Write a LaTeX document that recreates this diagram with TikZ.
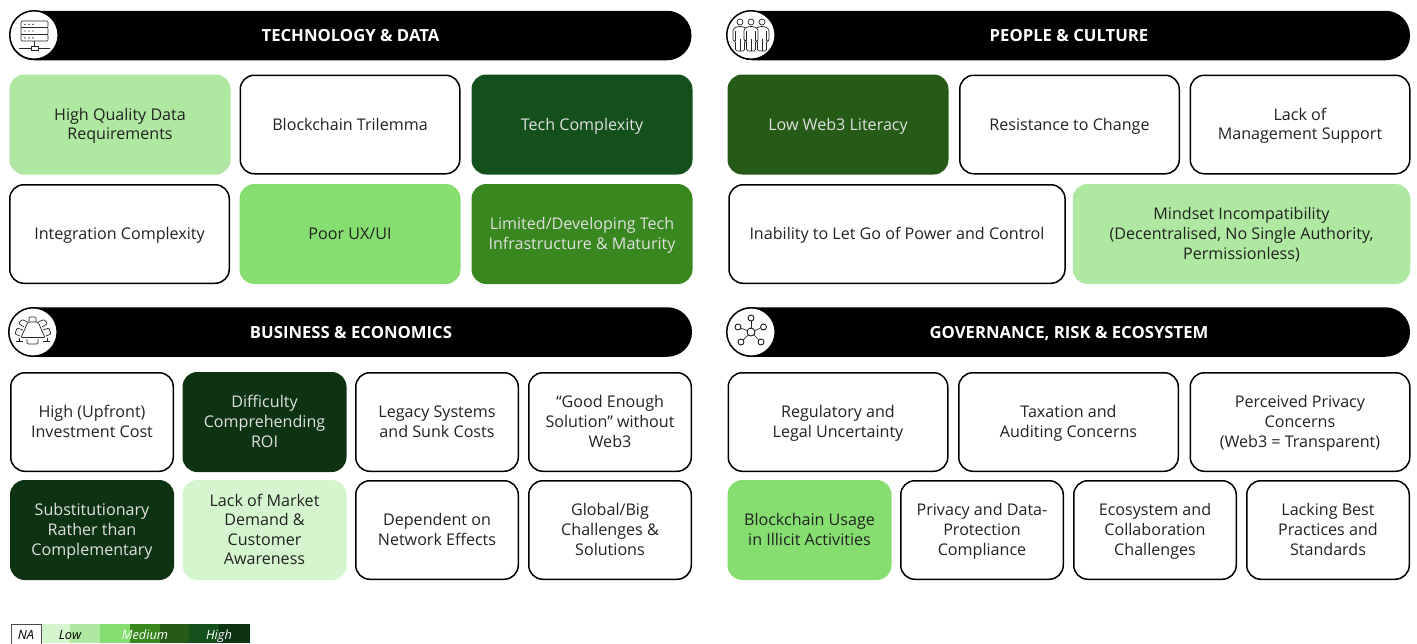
\documentclass[tikz,border=0pt]{standalone}
\usepackage{xcolor}
\usepackage{fontspec}
\setmainfont{Open Sans}
\usetikzlibrary{positioning}
\definecolor{lvlone}{HTML}{D5F5CE}
\definecolor{lvltwo}{HTML}{AFE8A0}
\definecolor{lvlthree}{HTML}{86DE70}
\definecolor{lvlfour}{HTML}{38871F}
\definecolor{lvlfive}{HTML}{265A17}
\definecolor{lvlsix}{HTML}{14501C}
\definecolor{lvlseven}{HTML}{0E3312}
\definecolor{cardtext}{HTML}{222222}

\begin{document}
\begin{tikzpicture}[
    x=1pt, y=-1pt,
    card/.style={rectangle, draw=black, fill=white, rounded corners=14pt, line width=1.5pt,
                 minimum height=98.5pt, inner sep=0pt, align=center, text=cardtext,
                 font=\fontsize{16.1}{19.6}\selectfont, lines=2},
    lines/.style={text depth=0pt, text height=#1*19.6pt-8.6pt},
    wide/.style={card, minimum width=219.5pt},
    slim/.style={card, minimum width=162.5pt},
    half/.style={card, minimum width=336pt},
    low/.style={draw=#1, fill=#1},
    dark/.style={draw=#1, fill=#1, text=white!88!black},
    headbar/.style={rectangle, fill=black, rounded corners=24.5pt, minimum width=682pt, minimum height=49.5pt,
                    inner sep=0pt, text=white, font=\fontsize{16.7}{19}\selectfont\bfseries,
                    text height=12pt, text depth=0pt},
    badge/.style={circle, draw=black, fill=white, line width=1.5pt, minimum size=48.5pt, inner sep=0pt},
    glyph/.style={draw=black!85, line width=0.7pt},
    hub/.style={circle, draw=black, fill=white, line width=0.8pt, inner sep=0pt, minimum size=#1},
    keytext/.style={font=\fontsize{12.8}{15}\selectfont\itshape, inner sep=0pt, anchor=base}
]
\useasboundingbox (0,0) rectangle (1417,643);

% Technology
\node[headbar] (techbar) at (350.5,35.5) {TECHNOLOGY \& DATA};
\node[badge] (techicon) at (34,35) {};
\node[wide, low=lvltwo] (quality) at (120,124.5) {High Quality Data\\Requirements};
\node[wide, lines=1] (trilemma) at (350,124.5) {Blockchain Trilemma};
\node[wide, lines=1, dark=lvlsix] (complexity) at (582,124.5) {Tech Complexity};
\node[wide, lines=1] (integration) at (119.5,234) {Integration Complexity};
\node[wide, lines=1, low=lvlthree] (poorux) at (350,234) {Poor UX/UI};
\node[wide, dark=lvlfour] (infra) at (582,234) {Limited/Developing Tech\\Infrastructure \& Maturity};

% People
\node[headbar] (peoplebar) at (1069,35.5) {PEOPLE \& CULTURE};
\node[badge] (peopleicon) at (751,35) {};
\node[wide, lines=1, dark=lvlfive] (literacy) at (838,124.5) {Low Web3 Literacy};
\node[wide, lines=1] (resistance) at (1069.5,124.5) {Resistance to Change};
\node[wide] (support) at (1300,124.5) {Lack of\\Management Support};
\node[half, lines=1] (letgo) at (897,234) {Inability to Let Go of Power and Control};
\node[half, lines=3, low=lvltwo] (mindset) at (1241.5,234) {Mindset Incompatibility\\(Decentralised, No Single Authority,\\Permissionless)};

% Business
\node[headbar] (busbar) at (351,332) {BUSINESS \& ECONOMICS};
\node[badge] (busicon) at (33,332) {};
\node[slim] (upfront) at (92,422) {High (Upfront)\\Investment Cost};
\node[slim, lines=3, dark=lvlseven] (roi) at (264.5,422) {Difficulty\\Comprehending\\ROI};
\node[slim] (legacy) at (437,422) {Legacy Systems\\and Sunk Costs};
\node[slim, lines=3] (goodenough) at (610,422) {“Good Enough\\Solution” without\\Web3};
\node[slim, lines=3, dark=lvlseven] (substitute) at (92,530) {Substitutionary\\Rather than\\Complementary};
\node[slim, lines=4, low=lvlone] (market) at (264.5,530) {Lack of Market\\Demand \&\\Customer\\Awareness};
\node[slim] (network) at (437,530) {Dependent on\\Network Effects};
\node[slim, lines=3] (global) at (610,530) {Global/Big\\Challenges \&\\Solutions};

% Governance
\node[headbar] (govbar) at (1069,332) {GOVERNANCE, RISK \& ECOSYSTEM};
\node[badge] (govicon) at (751,332) {};
\node[wide] (regulatory) at (838,422) {Regulatory and\\Legal Uncertainty};
\node[wide] (taxation) at (1068.5,422) {Taxation and\\Auditing Concerns};
\node[wide, lines=3] (privacy) at (1300,422) {Perceived Privacy\\Concerns\\(Web3 = Transparent)};
\node[slim, low=lvlthree] (illicit) at (809.5,530) {Blockchain Usage\\in Illicit Activities};
\node[slim, lines=3] (protection) at (982,530) {Privacy and Data-\\Protection\\Compliance};
\node[slim, lines=3] (ecosystem) at (1155,530) {Ecosystem and\\Collaboration\\Challenges};
\node[slim, lines=3] (practices) at (1328,530) {Lacking Best\\Practices and\\Standards};

% Server icon
\draw[glyph, rounded corners=1pt] (21,21) rectangle (48,27.5);
\draw[glyph, rounded corners=1pt] (21,27.5) rectangle (48,34.5);
\draw[glyph, rounded corners=1pt] (21,34.5) rectangle (48,41);
\foreach \rowy in {24.3,31,37.8} {
    \foreach \dotx in {25,29,33} {
        \fill[black] (\dotx,\rowy) circle (0.7pt);
    }
}
\draw[glyph] (34.5,41) -- (34.5,46);
\draw[glyph] (19,48) -- (31,48);
\draw[glyph] (38,48) -- (50,48);
\draw[glyph] (31,46) rectangle (38,50);

% People icon
\foreach \cx in {740,762,751} {
    \draw[glyph, fill=white] (\cx,22) circle (3pt);
    \draw[glyph, fill=white, rounded corners=1.5pt] (\cx-2.5,26.5) -- (\cx-7,29) -- (\cx-7,41) -- (\cx-4.5,41)
        -- (\cx-4.5,51) -- (\cx+4.5,51) -- (\cx+4.5,41) -- (\cx+7,41) -- (\cx+7,29) -- (\cx+2.5,26.5) -- cycle;
    \draw[glyph] (\cx,39) -- (\cx,51) (\cx-4.5,31) -- (\cx-4.5,41) (\cx+4.5,31) -- (\cx+4.5,41);
}

% Table icon
\draw[glyph, rounded corners=1pt] (21,337.5) -- (28,322) -- (38,322) -- (45,337.5) -- cycle;
\draw[glyph, rounded corners=1.5pt] (27,339) -- (27,344) -- (38,344) -- (38,339);
\draw[glyph, rounded corners=1pt] (29,322) -- (29,317) -- (36,317) -- (36,322);
\draw[glyph, rounded corners=1pt] (24,327) -- (18.5,323.5) -- (22,319.5) -- (27.5,322);
\draw[glyph, rounded corners=1pt] (42,327) -- (47.5,323.5) -- (44,319.5) -- (38.5,322);
\draw[glyph, rounded corners=1pt] (20,336) -- (15,334) -- (17,328) -- (23,330);
\draw[glyph, rounded corners=1pt] (46,336) -- (51,334) -- (49,328) -- (43,330);
\draw[glyph] (16,341) -- (23,341) (19,338) -- (19,341) (43,341) -- (50,341) (47,338) -- (47,341);

% Network icon
\node[hub=8pt] (nethub) at (751,332) {};
\node[hub=6pt] (netnorth) at (751,318) {};
\node[hub=6pt] (netwest) at (738,327) {};
\node[hub=6pt] (neteast) at (763.5,327) {};
\node[hub=6pt] (netsw) at (741,342) {};
\node[hub=6pt] (netse) at (761,342) {};
\draw[glyph] (nethub) -- (netnorth);
\draw[glyph] (nethub) -- (netwest);
\draw[glyph] (nethub) -- (neteast);
\draw[glyph] (nethub) -- (netsw);
\draw[glyph] (nethub) -- (netse);

% Legend
\fill[lvlone] (42,624) rectangle (70,643);
\fill[lvltwo] (70,624) rectangle (100,643);
\fill[lvlthree] (100,624) rectangle (130,643);
\fill[lvlfour] (130,624) rectangle (160,643);
\fill[lvlfive] (160,624) rectangle (189,643);
\fill[lvlsix] (189,624) rectangle (219,643);
\fill[lvlseven] (219,624) rectangle (250,643);
\draw[black!70, line width=0.8pt] (11,645) -- (11,624) -- (41,624) -- (41,645);
\node[keytext] (keyna) at (26,639) {NA};
\node[keytext] (keylow) at (70,639) {Low};
\node[keytext, text=white] (keymed) at (145,639) {Medium};
\node[keytext, text=white] (keyhigh) at (219,639) {High};
\end{tikzpicture}
\end{document}
